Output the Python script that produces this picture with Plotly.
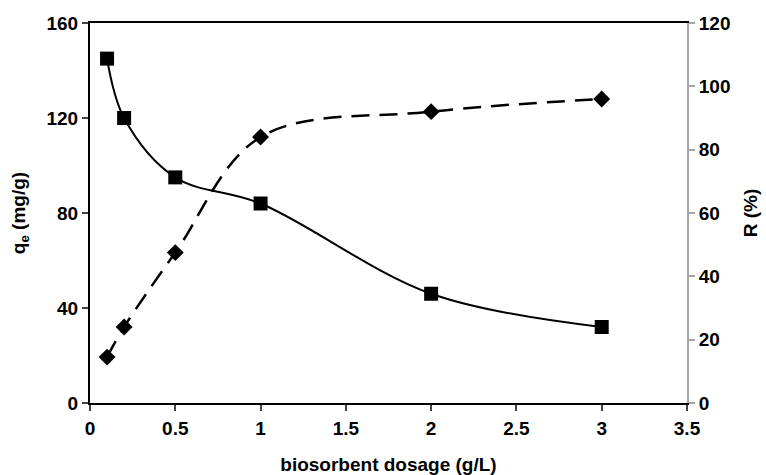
import plotly.graph_objects as go

dosage = [0.1, 0.2, 0.5, 1, 2, 3]
qe = [145, 120, 95, 84, 46, 32]
removal = [14.5, 24, 47.5, 84, 92, 96]

x_ticks = [0, 0.5, 1, 1.5, 2, 2.5, 3, 3.5]
x_labels = ["0", "0.5", "1", "1.5", "2", "2.5", "3", "3.5"]
y1_ticks = [0, 40, 80, 120, 160]
y2_ticks = [0, 20, 40, 60, 80, 100, 120]

FONT = "Liberation Sans"
TICKFONT = dict(family=FONT, size=19, color="black")

fig = go.Figure()
fig.add_trace(go.Scatter(
    x=dosage, y=qe, mode="lines+markers", yaxis="y",
    line=dict(color="black", width=2, shape="spline", smoothing=1.0),
    marker=dict(symbol="square", size=14, color="black"),
    showlegend=False,
))
fig.add_trace(go.Scatter(
    x=dosage, y=removal, mode="lines+markers", yaxis="y2",
    line=dict(color="black", width=2.5, dash="18px,10px", shape="spline", smoothing=1.0),
    marker=dict(symbol="diamond", size=13, color="black"),
    showlegend=False,
))

fig.update_layout(
    width=766, height=475,
    margin=dict(l=90, r=79, t=23, b=72),
    paper_bgcolor="white", plot_bgcolor="white",
    font=dict(family=FONT, color="black"),
    xaxis=dict(
        range=[0, 3.5], tickvals=x_ticks, ticktext=[f"<b>{t}</b>" for t in x_labels],
        showgrid=False, zeroline=False, automargin=False,
        showline=True, linecolor="black", linewidth=2, mirror=True,
        ticks="outside", ticklen=6, tickcolor="#444", tickwidth=1.5,
        tickfont=TICKFONT, ticklabelstandoff=1,
        title=dict(text="<b>biosorbent dosage (g/L)</b>", font=dict(family=FONT, size=19), standoff=20),
    ),
    yaxis=dict(
        range=[0, 160], tickvals=y1_ticks, ticktext=[f"<b>{t}</b>" for t in y1_ticks],
        showgrid=False, zeroline=False, automargin=False,
        showline=True, linecolor="black", linewidth=2,
        ticks="outside", ticklen=6, tickcolor="#444", tickwidth=1.5,
        tickfont=TICKFONT,
        title=dict(text="<b>q<sub>e</sub> (mg/g)</b>", font=dict(family=FONT, size=19), standoff=16),
    ),
    yaxis2=dict(
        range=[0, 120], tickvals=y2_ticks, ticktext=[f"<b>{t}</b>" for t in y2_ticks],
        overlaying="y", side="right", automargin=False,
        showgrid=False, zeroline=False,
        showline=True, linecolor="#a6a6a6", linewidth=2,
        ticks="outside", ticklen=6, tickcolor="#a6a6a6", tickwidth=1.5,
        tickfont=TICKFONT,
        title=dict(text="<b>R (%)</b>", font=dict(family=FONT, size=19), standoff=14),
    ),
)

fig.write_html("out.html")
